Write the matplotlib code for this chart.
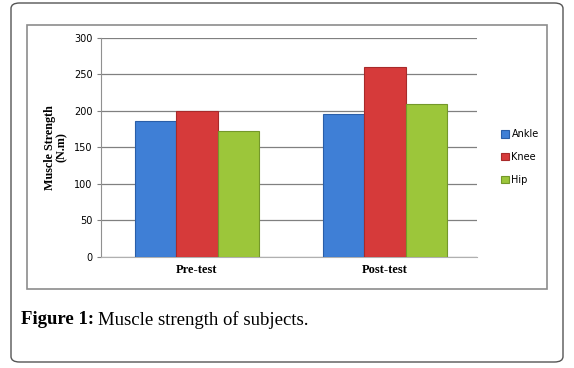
import matplotlib.pyplot as plt
import numpy as np
from matplotlib.patches import FancyBboxPatch, Rectangle

# data
categories = ["Pre-test", "Post-test"]
series = ["Ankle", "Knee", "Hip"]
ankle = [186, 196]
knee = [199, 260]
hip = [172, 209]
yticks = [0, 50, 100, 150, 200, 250, 300]

colors = ["#3f7fd6", "#d63a3a", "#9cc63a"]
edges = ["#2a5ea8", "#a82a2a", "#74982a"]

W, H = 574, 368
fig = plt.figure(figsize=(W / 100, H / 100), dpi=100)

# outer rounded box and chart frame
fig.patches.append(FancyBboxPatch((11 / W, 1 - 362 / H), 552 / W, 359 / H,
                                  boxstyle="round,pad=0,rounding_size=0.015",
                                  transform=fig.transFigure, fill=False,
                                  edgecolor="#555555", linewidth=1.0))
fig.patches.append(Rectangle((27 / W, 1 - 289 / H), 520 / W, 264 / H,
                             transform=fig.transFigure, fill=False,
                             edgecolor="#8c8c8c", linewidth=1.2))

ax = fig.add_axes([101 / W, 1 - 257 / H, 376 / W, 219.5 / H])

x = np.arange(len(categories))
bw = 0.22
for i, (vals, name) in enumerate(zip([ankle, knee, hip], series)):
    ax.bar(x + (i - 1) * bw, vals, bw, color=colors[i], edgecolor=edges[i],
           linewidth=0.8, label=name, zorder=3)

ax.set_xlim(-0.51, 1.49)
ax.set_ylim(0, 300)
ax.set_yticks(yticks)
ax.set_xticks(x)
ax.set_xticklabels(categories, fontfamily="Liberation Serif", fontweight="bold", fontsize=9)
ax.tick_params(axis="x", length=0, pad=5)
ax.tick_params(axis="y", length=3, color="#808080", labelsize=7, pad=3)
for lab in ax.get_yticklabels():
    lab.set_fontfamily("DejaVu Sans")
ax.grid(axis="y", color="#808080", linewidth=0.9, zorder=0)
for s in ["top", "right"]:
    ax.spines[s].set_visible(False)
ax.spines["left"].set_color("#909090")
ax.spines["bottom"].set_color("#b0b0b0")

ax.set_ylabel("Muscle Strength\n(N.m)", fontfamily="Liberation Serif",
              fontweight="bold", fontsize=8.7, linespacing=1.05)
ax.yaxis.set_label_coords(-0.087, 0.5)

ax.legend(loc="center left", bbox_to_anchor=(492 / W, 1 - 157 / H),
          bbox_transform=fig.transFigure, frameon=False, fontsize=7,
          handlelength=0.8, handleheight=0.8, handletextpad=0.3,
          labelspacing=1.3)

# caption: bold lead-in, then plain text right after it
t1 = fig.text(21 / W, 1 - 320 / H, "Figure 1:", fontfamily="Liberation Serif",
              fontweight="bold", fontsize=13.5, va="center", ha="left")
fig.canvas.draw()
bb = t1.get_window_extent()
fig.text(bb.x1 / W + 4 / W, 1 - 320 / H, "Muscle strength of subjects.",
         fontfamily="Liberation Serif", fontsize=13.5, va="center", ha="left")

fig.savefig("out.png", dpi=100)
